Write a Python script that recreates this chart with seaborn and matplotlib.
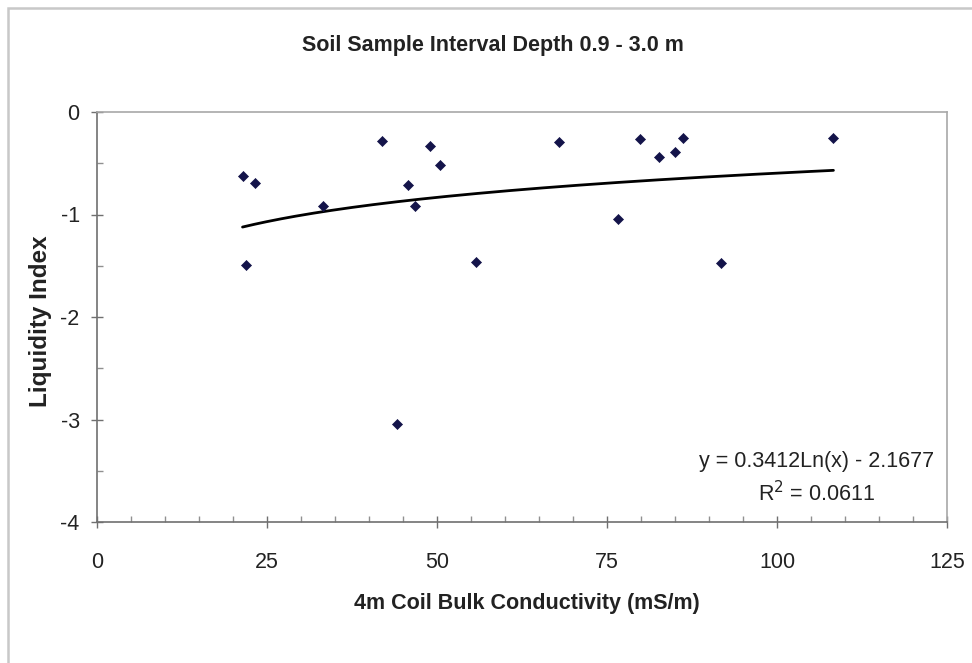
import numpy as np
import pandas as pd
import seaborn as sns
import matplotlib.pyplot as plt
from matplotlib.ticker import MultipleLocator
from matplotlib.patches import Rectangle

sns.set_style('ticks')
plt.rcParams['font.family'] = ['Liberation Sans', 'DejaVu Sans']
plt.rcParams['axes.unicode_minus'] = False

# Soil samples
conductivity = [21.4, 23.3, 21.9, 33.2, 41.9, 44.1, 45.7, 46.7, 49.0, 50.4,
                55.8, 67.9, 76.6, 79.9, 82.6, 85.0, 86.2, 91.8, 108.3]
liquidity = [-0.62, -0.69, -1.49, -0.92, -0.28, -3.04, -0.71, -0.92, -0.33, -0.52,
             -1.46, -0.29, -1.04, -0.26, -0.44, -0.39, -0.25, -1.47, -0.25]

# Excel log trendline as printed on the chart
slope = 0.3412
intercept = -2.1677
r_squared = 0.0611

df = pd.DataFrame({'x': conductivity, 'y': liquidity})
xfit = np.linspace(min(conductivity), max(conductivity), 200)
fit = pd.DataFrame({'x': xfit, 'y': slope * np.log(xfit) + intercept})

fig = plt.figure(figsize=(9.72, 6.63), dpi=100)
# outer chart border
fig.patches.append(Rectangle((8 / 972, -0.1), 1.1, 1 - 8 / 663 + 0.1,
                             transform=fig.transFigure, fill=False,
                             edgecolor='#c8c8c8', linewidth=1.8))

ax = fig.add_axes([97 / 972, (663 - 522) / 663, 850 / 972, 410 / 663])

sns.lineplot(data=fit, x='x', y='y', color='black', linewidth=2.0, ax=ax)
sns.scatterplot(data=df, x='x', y='y', marker='D', s=26, color='#14144a',
                edgecolor='#14144a', linewidth=0.5, ax=ax, zorder=3)

ax.set_xlim(0, 125)
ax.set_ylim(-4, 0)
ax.xaxis.set_major_locator(MultipleLocator(25))
ax.xaxis.set_minor_locator(MultipleLocator(5))
ax.yaxis.set_major_locator(MultipleLocator(1))
ax.yaxis.set_minor_locator(MultipleLocator(0.5))
ax.tick_params(which='major', direction='inout', length=9, width=1,
               color='#707070', labelsize=15.5, labelcolor='#222222')
ax.tick_params(axis='x', which='major', pad=17)
ax.tick_params(axis='y', which='major', pad=8)
ax.tick_params(which='minor', direction='in', length=4, width=1, color='#909090')

for s in ['left', 'bottom']:
    ax.spines[s].set_color('#707070')
    ax.spines[s].set_linewidth(1.2)
for s in ['top', 'right']:
    ax.spines[s].set_color('#a8a8a8')
    ax.spines[s].set_linewidth(1.2)

ax.set_xlabel('4m Coil Bulk Conductivity (mS/m)', fontsize=15.5,
              fontweight='bold', color='#222222')
ax.set_ylabel('Liquidity Index', fontsize=17.5, fontweight='bold',
              color='#222222')
ax.xaxis.set_label_coords((527 - 97) / 850, (522 - 593) / 410)
ax.yaxis.set_label_coords((52 - 97) / 850, 0.49)

fig.text(493 / 972, 1 - 45 / 663, 'Soil Sample Interval Depth 0.9 - 3.0 m',
         ha='center', va='center', fontsize=15.5, fontweight='bold', color='#222222')

ax.text((817 - 97) / 850, (522 - 462) / 410, 'y = %.4fLn(x) - %.4f' % (slope, -intercept),
        transform=ax.transAxes, ha='center', va='center', fontsize=15.5, color='#222222')
ax.text((817 - 97) / 850, (522 - 494) / 410, 'R$^2$ = %.4f' % r_squared,
        transform=ax.transAxes, ha='center', va='center', fontsize=15.5, color='#222222')

fig.savefig('out.png', dpi=100)
